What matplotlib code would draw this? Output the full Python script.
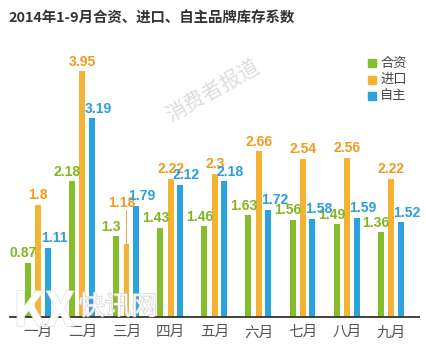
import numpy as np
import matplotlib
matplotlib.use("Agg")
from matplotlib import pyplot as plt
import matplotlib.patheffects as pe

plt.rcParams['font.family'] = ['Noto Sans CJK SC', 'DejaVu Sans']

months = ["一月", "二月", "三月", "四月", "五月", "六月", "七月", "八月", "九月"]
hezi = [0.87, 2.18, 1.3, 1.43, 1.46, 1.63, 1.56, 1.49, 1.36]
jinkou = [1.8, 3.95, 1.18, 2.22, 2.3, 2.66, 2.54, 2.56, 2.22]
zizhu = [1.11, 3.19, 1.79, 2.12, 2.18, 1.72, 1.58, 1.59, 1.52]
series_names = ["合资", "进口", "自主"]

bar_colors = ["#86bd2b", "#f6b232", "#2ba3de"]
text_colors = ["#82b51f", "#f29a1c", "#2a9fdc"]

W, H = 427, 351
fig = plt.figure(figsize=(W / 100, H / 100), dpi=100)
ax = fig.add_axes([10 / W, (H - 317) / H, 409 / W, (317 - 43) / H])

x = np.arange(len(months))
offsets = [-0.235, 0.0, 0.215]
bw = 0.135
lab_dx = [-0.11, 0.0, 0.14]   # label shift relative to bar
num_font = ['Liberation Sans', 'DejaVu Sans']

for k, vals in enumerate([hezi, jinkou, zizhu]):
    ax.bar(x + offsets[k], vals, width=bw, color=bar_colors[k], zorder=2)
    for i, v in enumerate(vals):
        txt = "{:g}".format(v)
        if k == 1 and i == 2:
            # 三月 进口 label lifted with a leader line
            ax.plot([x[i] + offsets[k]] * 2, [v, 1.72], color=text_colors[k], lw=0.6, zorder=1)
            ax.text(x[i] + offsets[k] - 0.1, 1.72, txt, ha="center", va="bottom",
                    color=text_colors[k], fontsize=10, fontweight="bold", family=num_font)
            continue
        ax.text(x[i] + offsets[k] + lab_dx[k], v + 0.04, txt, ha="center", va="bottom",
                color=text_colors[k], fontsize=10, fontweight="bold", family=num_font)

ax.set_xlim(-0.64, 8.63)
ax.set_ylim(0, 4.4)
for s in ["top", "right", "left"]:
    ax.spines[s].set_visible(False)
ax.spines["bottom"].set_color("#333333")
ax.spines["bottom"].set_linewidth(1.3)
ax.set_yticks([])
ax.set_xticks(x)
ax.set_xticklabels(months, fontsize=10.5, color="#555555")
ax.tick_params(axis="x", length=0, pad=6)

# title
fig.text(8 / W, 1 - 19 / H, "2014年1-9月合资、进口、自主品牌库存系数", fontsize=10.4,
         fontweight="bold", color="#333333", ha="left", va="center")

# legend
for k, name in enumerate(series_names):
    yy = 1 - (63 + k * 16.5) / H
    fig.patches.append(plt.Rectangle((368 / W, yy - 4 / H), 8 / W, 8 / H,
                                     transform=fig.transFigure, color=bar_colors[k]))
    fig.text(380 / W, yy, name, fontsize=9.5, color="#444444", ha="left", va="center")

# watermarks
fig.text(213 / W, 1 - 92 / H, "消费者报道", fontsize=15, color="#dddddd",
         rotation=30, ha="center", va="center")
fig.text(44 / W, 1 - 312 / H, "KX", fontsize=34, fontweight="bold", color="white",
         alpha=0.85, ha="center", va="center",
         path_effects=[pe.withStroke(linewidth=1, foreground="#dddddd")])
fig.text(118 / W, 1 - 307 / H, "快讯网", fontsize=19, color="white", alpha=0.85,
         ha="center", va="center",
         path_effects=[pe.withStroke(linewidth=1, foreground="#cccccc")])

fig.savefig("out.png", dpi=100)
